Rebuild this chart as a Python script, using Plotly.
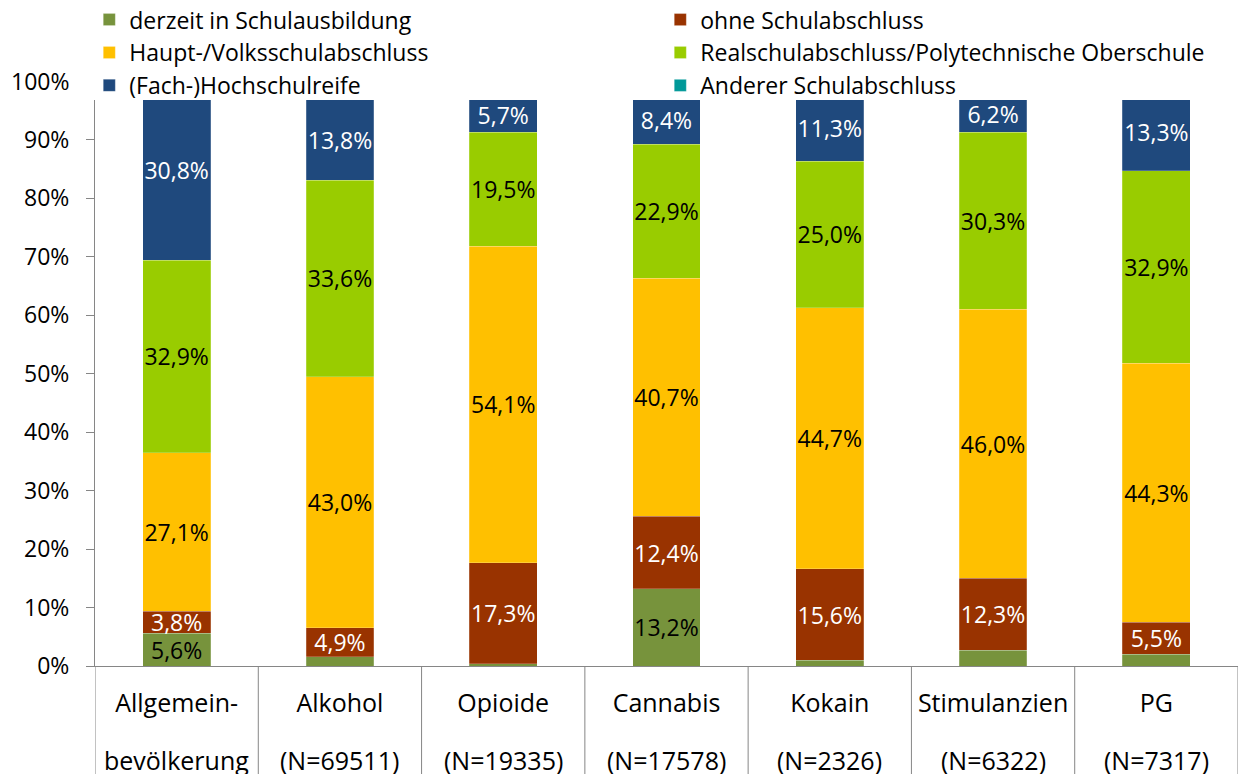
import plotly.graph_objects as go

# categories (x axis), two-line labels
categories = ["Allgemein-", "Alkohol", "Opioide", "Cannabis", "Kokain", "Stimulanzien", "PG"]
subtitles = ["bevölkerung", "(N=69511)", "(N=19335)", "(N=17578)", "(N=2326)", "(N=6322)", "(N=7317)"]

# shares in percent per education level
derzeit = [5.6, 1.6, 0.4, 13.2, 1.0, 2.7, 2.0]
ohne = [3.8, 4.9, 17.3, 12.4, 15.6, 12.3, 5.5]
haupt = [27.1, 43.0, 54.1, 40.7, 44.7, 46.0, 44.3]
real = [32.9, 33.6, 19.5, 22.9, 25.0, 30.3, 32.9]
fach = [30.8, 13.8, 5.7, 8.4, 11.3, 6.2, 13.3]
anderer = [0.0, 3.2, 3.0, 2.4, 2.4, 2.5, 1.8]

y_ticks = [0, 10, 20, 30, 40, 50, 60, 70, 80, 90]
y_max = 96.8  # plot area in the original stops just below 100%

FONT = "Open Sans"
GRAY = "#868686"

series = [
    ("derzeit in Schulausbildung", derzeit, "#77933C", "black"),
    ("ohne Schulabschluss", ohne, "#993300", "white"),
    ("Haupt-/Volksschulabschluss", haupt, "#FFC000", "black"),
    ("Realschulabschluss/Polytechnische Oberschule", real, "#99CC00", "black"),
    ("(Fach-)Hochschulreife", fach, "#1F497D", "white"),
    ("Anderer Schulabschluss", anderer, "#009999", "white"),
]


def label(v, show):
    if not show or v < 3:
        return ""
    return f"{v:.1f}%".replace(".", ",")


idx = list(range(len(categories)))

fig = go.Figure()
for name, vals, color, tcolor in series:
    show = name != "Anderer Schulabschluss"
    fig.add_trace(go.Bar(
        x=idx,
        y=vals,
        name=name,
        marker=dict(color=color, line=dict(width=0.6, color="rgba(255,255,255,0.35)")),
        text=[label(v, show) for v in vals],
        texttemplate="%{text}",
        textposition="inside",
        insidetextanchor="middle",
        constraintext="none",
        textangle=0,
        textfont=dict(family=FONT, size=23, color=tcolor),
        hoverinfo="skip",
    ))

fig.update_layout(
    barmode="stack",
    bargap=0.585,
    width=1241,
    height=774,
    margin=dict(l=95, r=3, t=100, b=108, autoexpand=False),
    paper_bgcolor="white",
    plot_bgcolor="white",
    font=dict(family=FONT, size=22, color="black"),
    legend=dict(
        orientation="h",
        x=-0.005,
        xanchor="left",
        y=1.180,
        yanchor="top",
        entrywidth=526,
        entrywidthmode="pixels",
        traceorder="normal",
        font=dict(family=FONT, size=23, color="black"),
        bgcolor="rgba(0,0,0,0)",
    ),
)

fig.update_xaxes(
    tickmode="array",
    tickvals=idx,
    ticktext=categories,
    range=[-0.5, len(categories) - 0.5],
    showline=True,
    linecolor=GRAY,
    linewidth=1,
    ticks="",
    ticklabelstandoff=15,
    showgrid=False,
    tickfont=dict(family=FONT, size=25, color="black"),
)

fig.update_yaxes(
    range=[0, y_max],
    tickmode="array",
    tickvals=y_ticks,
    ticktext=[f"{v}%" for v in y_ticks],
    showline=True,
    linecolor=GRAY,
    linewidth=1,
    ticks="outside",
    ticklen=8,
    tickcolor=GRAY,
    ticklabelstandoff=12,
    showgrid=False,
    zeroline=False,
    tickfont=dict(family=FONT, size=23, color="black"),
)

# second row of category labels
for i, sub in zip(idx, subtitles):
    fig.add_annotation(
        x=i, xref="x", y=-0.166, yref="paper",
        text=sub, showarrow=False, xanchor="center", yanchor="middle",
        font=dict(family=FONT, size=25, color="black"),
    )

# category separators reaching down through the label area
for i in range(len(categories) + 1):
    fig.add_shape(
        type="line", xref="x", yref="paper",
        x0=i - 0.5, x1=i - 0.5, y0=0, y1=-0.2,
        line=dict(color=GRAY, width=1),
    )

# the 100% label sits above the clipped plot area
fig.add_annotation(
    x=0, xref="paper", y=100 / y_max, yref="paper",
    text="100%", showarrow=False, xanchor="right", yanchor="middle", xshift=-24,
    font=dict(family=FONT, size=23, color="black"),
)

fig.write_html(
    "out.html",
    config={"displayModeBar": False},
    post_script="document.body.style.margin='0';",
)
